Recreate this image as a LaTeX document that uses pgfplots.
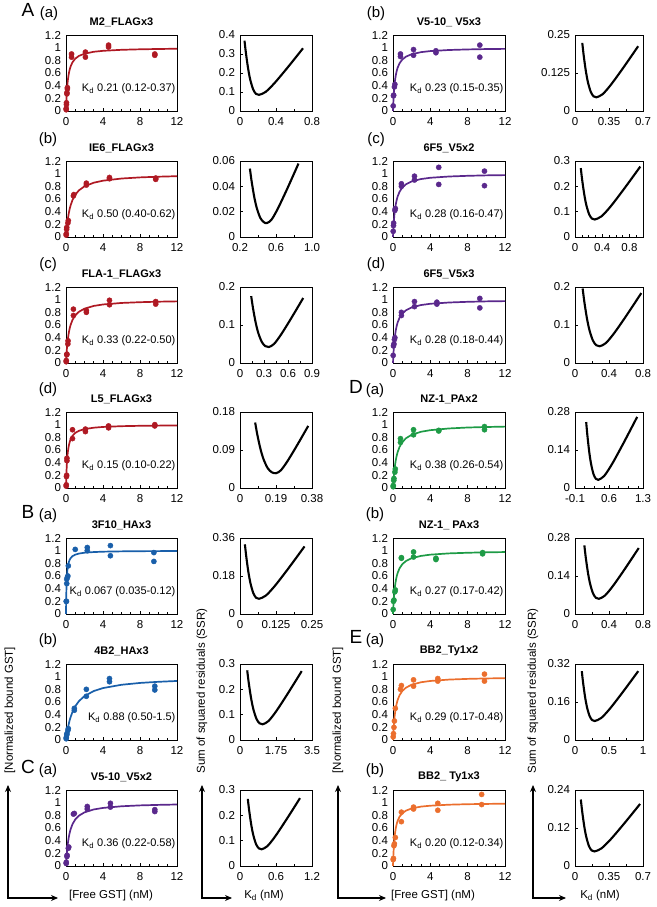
\documentclass[border=0pt]{standalone}
\usepackage{fontspec}
\setmainfont{Liberation Sans}
\usepackage{pgfplots}
\usepackage{pgfplotstable}
\pgfplotsset{compat=1.18}
\usetikzlibrary{arrows.meta}
\definecolor{cred}{RGB}{175,25,35}
\definecolor{cblue}{RGB}{25,95,170}
\definecolor{cpurple}{RGB}{90,40,140}
\definecolor{cgreen}{RGB}{30,155,70}
\definecolor{corange}{RGB}{235,110,45}

\pgfplotstableread{
x k021 k050 k033 k015 k0067 k088 k036 k023 k028 k038 k027 k029 k020
0 0 0 0 0 0 0 0 0 0 0 0 0 0
0.02 0.087 0.038 0.057 0.118 0.230 0.022 0.053 0.080 0.067 0.050 0.069 0.065 0.091
0.05 0.192 0.091 0.132 0.250 0.427 0.054 0.122 0.179 0.152 0.116 0.156 0.147 0.200
0.1 0.323 0.167 0.233 0.400 0.599 0.102 0.217 0.303 0.263 0.208 0.270 0.256 0.333
0.15 0.417 0.231 0.313 0.500 0.691 0.146 0.294 0.395 0.349 0.283 0.357 0.341 0.429
0.2 0.488 0.286 0.377 0.571 0.749 0.185 0.357 0.465 0.417 0.345 0.426 0.408 0.500
0.3 0.588 0.375 0.476 0.667 0.817 0.254 0.455 0.566 0.517 0.441 0.526 0.508 0.600
0.4 0.656 0.444 0.548 0.727 0.857 0.313 0.526 0.635 0.588 0.513 0.597 0.580 0.667
0.5 0.704 0.500 0.602 0.769 0.882 0.362 0.581 0.685 0.641 0.568 0.649 0.633 0.714
0.7 0.769 0.583 0.680 0.824 0.913 0.443 0.660 0.753 0.714 0.648 0.722 0.707 0.778
1 0.826 0.667 0.752 0.870 0.937 0.532 0.735 0.813 0.781 0.725 0.787 0.775 0.833
1.4 0.870 0.737 0.809 0.903 0.954 0.614 0.795 0.859 0.833 0.787 0.838 0.828 0.875
2 0.905 0.800 0.858 0.930 0.968 0.694 0.847 0.897 0.877 0.840 0.881 0.873 0.909
3 0.935 0.857 0.901 0.952 0.978 0.773 0.893 0.929 0.915 0.888 0.917 0.912 0.938
4 0.950 0.889 0.924 0.964 0.984 0.820 0.917 0.946 0.935 0.913 0.937 0.932 0.952
6 0.966 0.923 0.948 0.976 0.989 0.872 0.943 0.963 0.955 0.940 0.957 0.954 0.968
8 0.974 0.941 0.960 0.982 0.992 0.901 0.957 0.972 0.966 0.955 0.967 0.965 0.976
10 0.979 0.952 0.968 0.985 0.993 0.919 0.965 0.978 0.973 0.963 0.974 0.972 0.980
12 0.983 0.960 0.973 0.988 0.994 0.932 0.971 0.981 0.977 0.969 0.978 0.976 0.984
}\fits

\pgfplotsset{
  common/.style={scale only axis, height=76pt, ymin=0, clip=false,
    scaled ticks=false,
    axis line style={line width=0.75pt},
    tick align=inside, tick pos=left,
    major tick length=3pt, minor tick length=2pt,
    tick style={black, line width=0.6pt},
    ticklabel style={font=\fontsize{11.5}{12}\selectfont},
    yticklabel style={xshift=-1.5pt},
    xticklabel style={yshift=-3pt},
    anchor=south west},
  bind/.style={common, width=111pt, xmin=0, xmax=12, ymax=1.2,
    xtick={0,4,8,12}, xticklabels={0,4,8,12},
    minor xtick={1,2,3,5,6,7,9,10,11},
    ytick={0,0.2,0.4,0.6,0.8,1,1.2},
    yticklabels={0,0.2,0.4,0.6,0.8,1,1.2},
    ytick style={draw=none},
    title style={font=\bfseries\fontsize{11}{12}\selectfont, yshift=-1pt}},
  ssr/.style={common},
  fit/.style={line width=1.7pt},
  pts/.style={only marks, mark=*, mark size=2.6pt},
  ssrline/.style={black, line width=2.1pt, smooth}
}
\newcommand{\kd}[1]{\node[anchor=east,font=\fontsize{11}{12}\selectfont,inner sep=0pt] at (axis cs:11.85,0.35) {K\textsubscript{d} #1};}

\begin{document}
\begin{tikzpicture}[x=1pt,y=1pt]
\useasboundingbox (0,0) rectangle (656,907);

% ================= LEFT COLUMN =================
% Row 1
\begin{axis}[bind, at={(66pt,796pt)}, title={M2\_FLAGx3}]
\addplot[fit, cred] table[x=x,y=k021]{\fits};
\addplot[pts, cred] coordinates {(0.02,0.02) (0.02,0.04) (0.05,0.1) (0.05,0.13) (0.1,0.27) (0.1,0.29) (0.15,0.35) (0.15,0.37) (0.6,0.85) (0.6,0.9) (2.1,0.85) (2.1,0.93) (4.6,1.01) (4.6,1.04) (9.6,0.88) (9.6,0.9)};
\kd{0.21 (0.12-0.37)}
\end{axis}
\begin{axis}[ssr, at={(240pt,796pt)}, width=72pt, xmin=0, xmax=0.8, xtick={0,0.4,0.8}, xticklabels={0,0.4,0.8}, minor xtick={0.2,0.6}, ymax=0.4, ytick={0,0.1,0.2,0.3,0.4}, yticklabels={0,0.1,0.2,0.3,0.4}]
\addplot[ssrline] coordinates {(0.05,0.370) (0.066,0.304) (0.09,0.224) (0.114,0.1645) (0.146,0.1138) (0.178,0.0901) (0.21,0.085) (0.2835,0.0999) (0.3815,0.1458) (0.504,0.2144) (0.602,0.2717) (0.70,0.33)};
\end{axis}

% Row 2
\begin{axis}[bind, at={(66pt,670pt)}, title={IE6\_FLAGx3}]
\addplot[fit, cred] table[x=x,y=k050]{\fits};
\addplot[pts, cred] coordinates {(0.02,0.03) (0.03,0.05) (0.07,0.12) (0.08,0.15) (0.2,0.22) (0.25,0.26) (0.8,0.65) (0.85,0.67) (2.2,0.82) (2.2,0.85) (4.7,0.92) (4.7,0.94) (9.7,0.91) (9.7,0.93)};
\kd{0.50 (0.40-0.62)}
\end{axis}
\begin{axis}[ssr, at={(240pt,670pt)}, width=72pt, xmin=0.2, xmax=1.0, xtick={0.2,0.6,1.0}, xticklabels={0.2,0.6,1.0}, minor xtick={0.4,0.8}, ymax=0.06, ytick={0,0.02,0.04,0.06}, yticklabels={0,0.02,0.04,0.06}]
\addplot[ssrline] coordinates {(0.31,0.054) (0.329,0.044) (0.3575,0.0319) (0.386,0.0230) (0.424,0.0153) (0.462,0.0118) (0.50,0.011) (0.5525,0.0139) (0.6225,0.0227) (0.71,0.0358) (0.78,0.0468) (0.85,0.058)};
\end{axis}

% Row 3
\begin{axis}[bind, at={(66pt,544pt)}, title={FLA-1\_FLAGx3}]
\addplot[fit, cred] table[x=x,y=k033]{\fits};
\addplot[pts, cred] coordinates {(0.02,0.02) (0.03,0.04) (0.08,0.13) (0.1,0.14) (0.2,0.3) (0.22,0.35) (0.8,0.75) (0.8,0.85) (2.2,0.8) (2.2,0.83) (4.7,0.92) (4.7,0.99) (9.7,0.93) (9.7,0.97)};
\kd{0.33 (0.22-0.50)}
\end{axis}
\begin{axis}[ssr, at={(240pt,544pt)}, width=72pt, xmin=0, xmax=0.9, xtick={0,0.3,0.6,0.9}, xticklabels={0,0.3,0.6,0.9}, minor xtick={0.15,0.45,0.75}, ymax=0.2, ytick={0,0.1,0.2}, yticklabels={0,0.1,0.2}]
\addplot[ssrline] coordinates {(0.14,0.176) (0.162,0.1449) (0.195,0.1073) (0.228,0.0794) (0.272,0.0555) (0.316,0.0444) (0.36,0.042) (0.4245,0.0499) (0.5105,0.074) (0.618,0.1101) (0.704,0.1403) (0.79,0.171)};
\end{axis}

% Row 4
\begin{axis}[bind, at={(66pt,419pt)}, title={L5\_FLAGx3}]
\addplot[fit, cred] table[x=x,y=k015]{\fits};
\addplot[pts, cred] coordinates {(0.02,0.03) (0.03,0.05) (0.05,0.18) (0.07,0.2) (0.1,0.43) (0.1,0.47) (0.7,0.78) (0.7,0.92) (2.1,0.89) (2.1,0.93) (4.6,0.95) (4.6,0.98) (9.6,0.98) (9.6,1.0)};
\kd{0.15 (0.10-0.22)}
\end{axis}
\begin{axis}[ssr, at={(240pt,419pt)}, width=72pt, xmin=0, xmax=0.38, xtick={0,0.19,0.38}, xticklabels={0,0.19,0.38}, minor xtick={0.095,0.285}, ymax=0.18, ytick={0,0.09,0.18}, yticklabels={0,0.09,0.18}]
\addplot[ssrline] coordinates {(0.08,0.155) (0.091,0.1272) (0.1075,0.0934) (0.124,0.0685) (0.146,0.0471) (0.168,0.0372) (0.19,0.035) (0.2155,0.0418) (0.2495,0.0628) (0.292,0.0941) (0.326,0.1203) (0.36,0.147)};
\end{axis}

% Row 5
\begin{axis}[bind, at={(66pt,293pt)}, title={3F10\_HAx3}]
\addplot[fit, cblue] table[x=x,y=k0067]{\fits};
\addplot[pts, cblue] coordinates {(0.02,0.2) (0.05,0.2) (0.08,0.48) (0.08,0.55) (0.15,0.58) (0.2,0.6) (0.25,0.76) (1.0,1.02) (2.3,1.0) (2.3,1.05) (4.8,0.92) (4.8,1.08) (9.5,0.83) (9.5,0.97)};
\kd{0.067 (0.035-0.12)}
\end{axis}
\begin{axis}[ssr, at={(240pt,293pt)}, width=72pt, xmin=0, xmax=0.25, xtick={0,0.125,0.25}, xticklabels={0,0.125,0.25}, minor xtick={0.0625,0.1875}, ymax=0.36, ytick={0,0.18,0.36}, yticklabels={0,0.18,0.36}]
\addplot[ssrline] coordinates {(0.017,0.33) (0.0219,0.2701) (0.02925,0.1976) (0.0366,0.144) (0.0464,0.0981) (0.0562,0.0766) (0.066,0.072) (0.0897,0.0871) (0.1213,0.1335) (0.1608,0.2029) (0.1924,0.261) (0.224,0.32)};
\end{axis}

% Row 6
\begin{axis}[bind, at={(66pt,167pt)}, title={4B2\_HAx3}]
\addplot[fit, cblue] table[x=x,y=k088]{\fits};
\addplot[pts, cblue] coordinates {(0.02,0.02) (0.03,0.04) (0.08,0.08) (0.1,0.1) (0.2,0.15) (0.25,0.18) (0.9,0.47) (0.9,0.5) (2.2,0.69) (2.2,0.8) (4.7,0.92) (4.7,0.97) (9.6,0.79) (9.6,0.85)};
\kd{0.88 (0.50-1.5)}
\end{axis}
\begin{axis}[ssr, at={(240pt,167pt)}, width=72pt, xmin=0, xmax=3.5, xtick={0,1.75,3.5}, xticklabels={0,1.75,3.5}, minor xtick={0.875,2.625}, ymax=0.3, ytick={0,0.1,0.2,0.3}, yticklabels={0,0.1,0.2,0.3}]
\addplot[ssrline] coordinates {(0.35,0.275) (0.425,0.2256) (0.5375,0.1657) (0.65,0.1214) (0.80,0.0835) (0.95,0.0658) (1.1,0.062) (1.385,0.0748) (1.765,0.1141) (2.24,0.1729) (2.62,0.222) (3.0,0.272)};
\end{axis}

% Row 7
\begin{axis}[bind, at={(66pt,41pt)}, title={V5-10\_V5x2}]
\addplot[fit, cpurple] table[x=x,y=k036]{\fits};
\addplot[pts, cpurple] coordinates {(0.02,0.04) (0.03,0.06) (0.1,0.15) (0.12,0.17) (0.25,0.28) (0.3,0.3) (0.8,0.82) (0.9,0.83) (2.3,0.9) (2.3,0.94) (4.8,0.93) (4.8,0.99) (9.6,0.86) (9.6,0.89)};
\kd{0.36 (0.22-0.58)}
\end{axis}
\begin{axis}[ssr, at={(240pt,41pt)}, width=72pt, xmin=0, xmax=1.2, xtick={0,0.6,1.2}, xticklabels={0,0.6,1.2}, minor xtick={0.3,0.9}, ymax=0.3, ytick={0,0.1,0.2,0.3}, yticklabels={0,0.1,0.2,0.3}]
\addplot[ssrline] coordinates {(0.13,0.265) (0.153,0.2188) (0.1875,0.1629) (0.222,0.1215) (0.268,0.0861) (0.314,0.0696) (0.36,0.066) (0.456,0.0783) (0.584,0.1161) (0.744,0.1727) (0.872,0.2199) (1.0,0.268)};
\end{axis}

% ================= RIGHT COLUMN =================
% Row 1
\begin{axis}[bind, at={(393pt,796pt)}, width=112pt, title={V5-10\_ V5x3}]
\addplot[fit, cpurple] table[x=x,y=k023]{\fits};
\addplot[pts, cpurple] coordinates {(0.02,0.08) (0.05,0.24) (0.07,0.25) (0.15,0.38) (0.2,0.42) (0.8,0.86) (0.8,0.9) (2.2,0.88) (2.2,0.97) (4.6,0.92) (4.6,0.95) (9.3,0.85) (9.3,1.04)};
\kd{0.23 (0.15-0.35)}
\end{axis}
\begin{axis}[ssr, at={(575pt,796pt)}, width=68pt, xmin=0, xmax=0.7, xtick={0,0.35,0.7}, xticklabels={0,0.35,0.7}, minor xtick={0.175,0.525}, ymax=0.25, ytick={0,0.125,0.25}, yticklabels={0,0.125,0.25}]
\addplot[ssrline] coordinates {(0.075,0.224) (0.0895,0.1825) (0.1113,0.1322) (0.133,0.0949) (0.162,0.0631) (0.191,0.0482) (0.22,0.045) (0.2845,0.0553) (0.3705,0.0867) (0.478,0.1337) (0.564,0.173) (0.65,0.213)};
\end{axis}

% Row 2
\begin{axis}[bind, at={(393pt,670pt)}, width=112pt, title={6F5\_V5x2}]
\addplot[fit, cpurple] table[x=x,y=k028]{\fits};
\addplot[pts, cpurple] coordinates {(0.02,0.09) (0.05,0.18) (0.07,0.22) (0.2,0.42) (0.25,0.45) (0.9,0.8) (0.9,0.84) (2.3,0.9) (2.3,0.96) (4.9,0.83) (4.9,1.1) (9.8,0.81) (9.8,1.04)};
\kd{0.28 (0.16-0.47)}
\end{axis}
\begin{axis}[ssr, at={(575pt,670pt)}, width=68pt, xmin=0, xmax=1.0, xtick={0,0.4,0.8}, xticklabels={0,0.4,0.8}, minor xtick={0.1,0.2,0.3,0.5,0.6,0.7,0.9}, ymax=0.3, ytick={0,0.1,0.2,0.3}, yticklabels={0,0.1,0.2,0.3}]
\addplot[ssrline] coordinates {(0.085,0.272) (0.1055,0.2249) (0.1363,0.1679) (0.167,0.1256) (0.208,0.0895) (0.249,0.0727) (0.29,0.069) (0.3905,0.0818) (0.5245,0.1208) (0.692,0.1794) (0.826,0.2283) (0.96,0.278)};
\end{axis}

% Row 3
\begin{axis}[bind, at={(393pt,544pt)}, width=112pt, title={6F5\_V5x3}]
\addplot[fit, cpurple] table[x=x,y=k028]{\fits};
\addplot[pts, cpurple] coordinates {(0.02,0.12) (0.05,0.27) (0.1,0.3) (0.15,0.37) (0.2,0.4) (0.9,0.75) (0.9,0.8) (2.3,0.89) (2.3,0.97) (4.7,0.93) (4.7,0.96) (9.3,0.87) (9.3,1.02)};
\kd{0.28 (0.18-0.44)}
\end{axis}
\begin{axis}[ssr, at={(575pt,544pt)}, width=68pt, xmin=0, xmax=0.8, xtick={0,0.4,0.8}, xticklabels={0,0.4,0.8}, minor xtick={0.2,0.6}, ymax=0.2, ytick={0,0.1,0.2}, yticklabels={0,0.1,0.2}]
\addplot[ssrline] coordinates {(0.09,0.196) (0.11,0.1607) (0.14,0.118) (0.17,0.0864) (0.21,0.0594) (0.25,0.0467) (0.29,0.044) (0.3635,0.0525) (0.4615,0.0787) (0.584,0.1179) (0.682,0.1507) (0.78,0.184)};
\end{axis}

% Row 4
\begin{axis}[bind, at={(393pt,419pt)}, width=112pt, title={NZ-1\_PAx2}]
\addplot[fit, cgreen] table[x=x,y=k038]{\fits};
\addplot[pts, cgreen] coordinates {(0.02,0.02) (0.03,0.04) (0.08,0.12) (0.1,0.15) (0.2,0.25) (0.25,0.3) (0.8,0.72) (0.8,0.78) (2.2,0.84) (2.2,0.92) (4.9,0.9) (4.9,0.91) (9.8,0.92) (9.8,0.97)};
\kd{0.38 (0.26-0.54)}
\end{axis}
\begin{axis}[ssr, at={(575pt,419pt)}, width=68pt, xmin=-0.1, xmax=1.3, xtick={-0.1,0.6,1.3}, xticklabels={-0.1,0.6,1.3}, minor xtick={0.1,0.3,0.5,0.8,1.0,1.2}, ymax=0.28, ytick={0,0.14,0.28}, yticklabels={0,0.14,0.28}]
\addplot[ssrline] coordinates {(0.13,0.243) (0.155,0.1936) (0.1925,0.1337) (0.23,0.0894) (0.28,0.0515) (0.33,0.0338) (0.38,0.030) (0.50,0.0442) (0.66,0.0875) (0.86,0.1525) (1.02,0.2068) (1.18,0.262)};
\end{axis}

% Row 5
\begin{axis}[bind, at={(393pt,293pt)}, width=112pt, title={NZ-1\_ PAx3}]
\addplot[fit, cgreen] table[x=x,y=k027]{\fits};
\addplot[pts, cgreen] coordinates {(0.02,0.07) (0.05,0.2) (0.1,0.22) (0.2,0.35) (0.25,0.38) (0.9,0.88) (0.9,0.89) (2.2,0.9) (2.2,0.98) (4.6,0.86) (4.6,0.88) (9.6,0.95) (9.6,0.97)};
\kd{0.27 (0.17-0.42)}
\end{axis}
\begin{axis}[ssr, at={(575pt,293pt)}, width=68pt, xmin=0, xmax=0.8, xtick={0,0.4,0.8}, xticklabels={0,0.4,0.8}, minor xtick={0.2,0.6}, ymax=0.28, ytick={0,0.14,0.28}, yticklabels={0,0.14,0.28}]
\addplot[ssrline] coordinates {(0.11,0.253) (0.127,0.2073) (0.1525,0.1519) (0.178,0.111) (0.212,0.0759) (0.246,0.0596) (0.28,0.056) (0.3505,0.0674) (0.4445,0.1024) (0.562,0.1547) (0.656,0.1985) (0.75,0.243)};
\end{axis}

% Row 6
\begin{axis}[bind, at={(393pt,167pt)}, width=112pt, title={BB2\_Ty1x2}]
\addplot[fit, corange] table[x=x,y=k029]{\fits};
\addplot[pts, corange] coordinates {(0.02,0.05) (0.05,0.1) (0.1,0.2) (0.15,0.3) (0.25,0.5) (0.8,0.8) (0.9,0.86) (2.2,0.85) (2.2,0.95) (4.8,0.93) (4.8,0.97) (9.8,0.93) (9.8,1.04)};
\kd{0.29 (0.17-0.48)}
\end{axis}
\begin{axis}[ssr, at={(575pt,167pt)}, width=68pt, xmin=0, xmax=1, xtick={0,0.5,1}, xticklabels={0,0.5,1}, minor xtick={0.25,0.75}, ymax=0.32, ytick={0,0.16,0.32}, yticklabels={0,0.16,0.32}]
\addplot[ssrline] coordinates {(0.1,0.29) (0.119,0.2413) (0.1475,0.1823) (0.176,0.1386) (0.214,0.1012) (0.252,0.0838) (0.29,0.08) (0.386,0.0928) (0.514,0.1321) (0.674,0.1909) (0.802,0.24) (0.93,0.29)};
\end{axis}

% Row 7
\begin{axis}[bind, at={(393pt,41pt)}, width=112pt, title={BB2\_ Ty1x3}]
\addplot[fit, corange] table[x=x,y=k020]{\fits};
\addplot[pts, corange] coordinates {(0.02,0.1) (0.05,0.12) (0.1,0.32) (0.15,0.35) (0.25,0.45) (0.9,0.7) (0.9,0.85) (2.2,0.9) (2.2,0.93) (4.8,0.88) (4.8,0.99) (9.5,0.97) (9.5,1.13)};
\kd{0.20 (0.12-0.34)}
\end{axis}
\begin{axis}[ssr, at={(575pt,41pt)}, width=68pt, xmin=0, xmax=0.7, xtick={0,0.35,0.7}, xticklabels={0,0.35,0.7}, minor xtick={0.175,0.525}, ymax=0.24, ytick={0,0.12,0.24}, yticklabels={0,0.12,0.24}]
\addplot[ssrline] coordinates {(0.06,0.21) (0.074,0.172) (0.095,0.1259) (0.116,0.0918) (0.144,0.0626) (0.172,0.049) (0.20,0.046) (0.2705,0.0552) (0.3645,0.0832) (0.482,0.1252) (0.576,0.1603) (0.67,0.196)};
\end{axis}

% ================= Panel letters =================
\begin{scope}[every node/.style={inner sep=0pt}]
\node[font=\fontsize{19}{20}\selectfont] at (28,897) {A};
\node[font=\fontsize{15}{16}\selectfont] at (49,893) {(a)};
\node[font=\fontsize{15}{16}\selectfont] at (48,767) {(b)};
\node[font=\fontsize{15}{16}\selectfont] at (48,642) {(c)};
\node[font=\fontsize{15}{16}\selectfont] at (48,517) {(d)};
\node[font=\fontsize{19}{20}\selectfont] at (28,395) {B};
\node[font=\fontsize{15}{16}\selectfont] at (48,391) {(a)};
\node[font=\fontsize{15}{16}\selectfont] at (48,266) {(b)};
\node[font=\fontsize{19}{20}\selectfont] at (28,140) {C};
\node[font=\fontsize{15}{16}\selectfont] at (48,136) {(a)};

\node[font=\fontsize{15}{16}\selectfont] at (376,893) {(b)};
\node[font=\fontsize{15}{16}\selectfont] at (376,767) {(c)};
\node[font=\fontsize{15}{16}\selectfont] at (376,642) {(d)};
\node[font=\fontsize{19}{20}\selectfont] at (356,520) {D};
\node[font=\fontsize{15}{16}\selectfont] at (375,516) {(a)};
\node[font=\fontsize{15}{16}\selectfont] at (375,392) {(b)};
\node[font=\fontsize{19}{20}\selectfont] at (356,270) {E};
\node[font=\fontsize{15}{16}\selectfont] at (375,266) {(a)};
\node[font=\fontsize{15}{16}\selectfont] at (375,136) {(b)};
\end{scope}

% ================= Axis labels and arrows =================
\tikzset{arr/.style={line width=1.1pt, {Stealth[length=7pt,width=6pt]}-{Stealth[length=7pt,width=6pt]}}}
\draw[arr] (8,122) -- (8,9) -- (58,9);
\draw[arr] (202,122) -- (202,9) -- (232,9);
\draw[arr] (338,122) -- (338,9) -- (386,9);
\draw[arr] (533,122) -- (533,9) -- (566,9);

\node[font=\fontsize{11.5}{12}\selectfont] at (111,11) {[Free GST] (nM)};
\node[font=\fontsize{11.5}{12}\selectfont] at (264,11) {K\textsubscript{d} (nM)};
\node[font=\fontsize{11.5}{12}\selectfont] at (433,11) {[Free GST] (nM)};
\node[font=\fontsize{11.5}{12}\selectfont] at (600,11) {K\textsubscript{d} (nM)};

\node[rotate=90, anchor=west, font=\fontsize{11.5}{12}\selectfont] at (10,130) {[Normalized bound GST]};
\node[rotate=90, anchor=west, font=\fontsize{11.5}{12}\selectfont] at (202,130) {Sum of squared residuals (SSR)};
\node[rotate=90, anchor=west, font=\fontsize{11.5}{12}\selectfont] at (338,130) {[Normalized bound GST]};
\node[rotate=90, anchor=west, font=\fontsize{11.5}{12}\selectfont] at (533,130) {Sum of squared residuals (SSR)};

\end{tikzpicture}
\end{document}
